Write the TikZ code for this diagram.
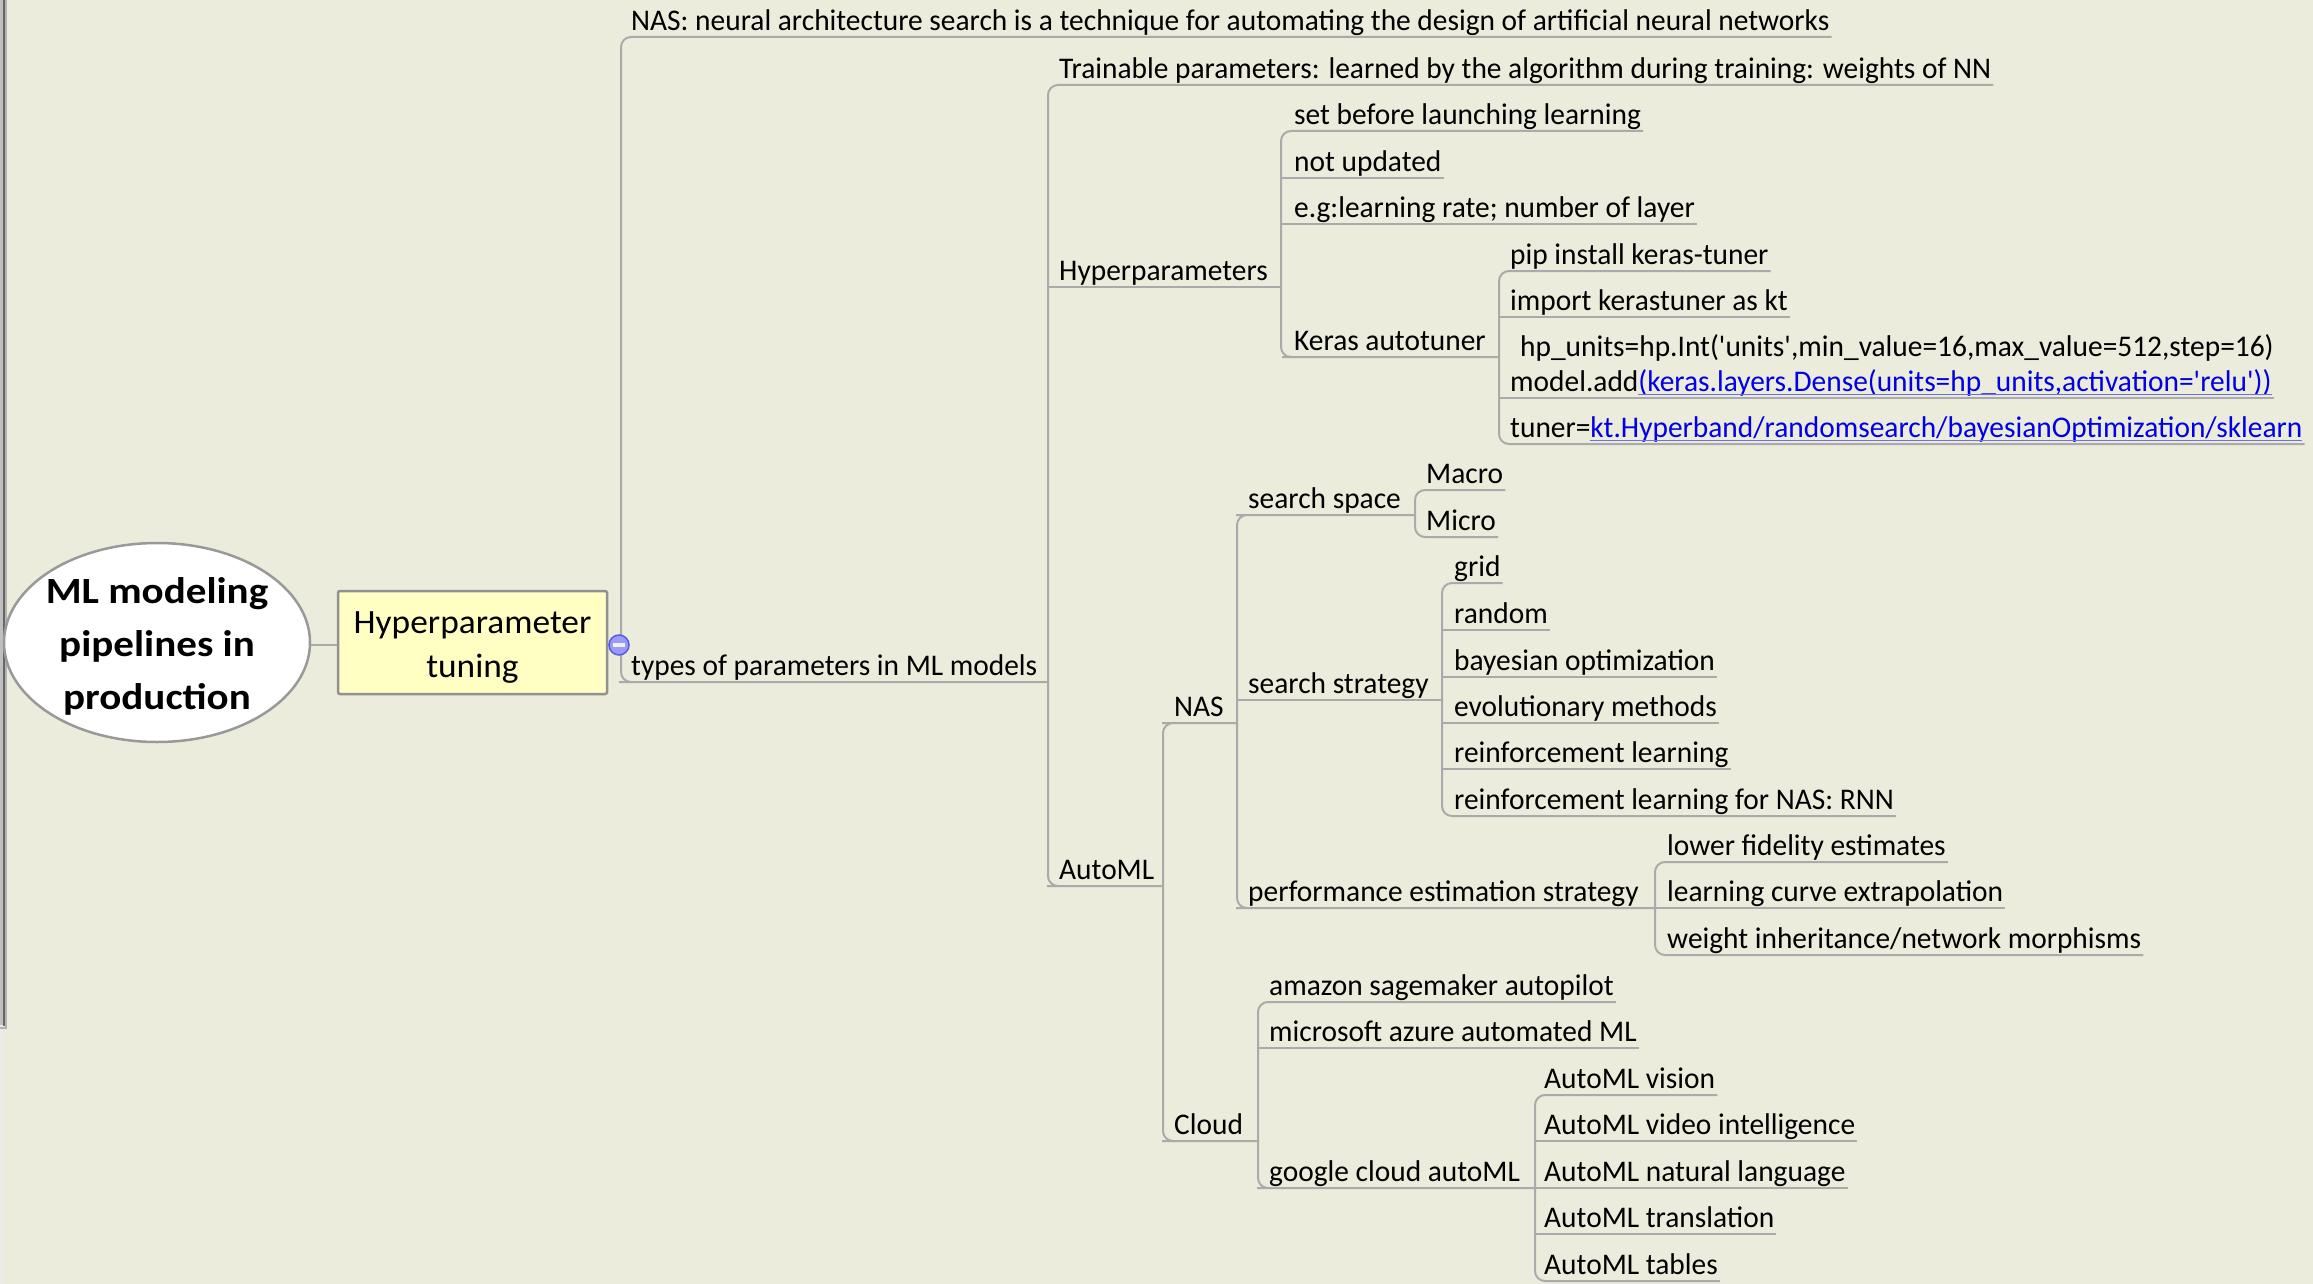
\documentclass[tikz,border=0pt]{standalone}
\usepackage{fontspec}
\setmainfont{Carlito}[FakeStretch=0.98]
\newfontfamily\rootfont{Carlito}[FakeStretch=1.11]
\newfontfamily\boxfont{Carlito}[FakeStretch=1.04]
\usetikzlibrary{calc,shapes.geometric}
\definecolor{bg}{RGB}{236,236,220}
\definecolor{ln}{RGB}{170,170,170}
\definecolor{boxfill}{RGB}{255,255,196}
\definecolor{boxdraw}{RGB}{145,145,145}
\definecolor{lnk}{RGB}{0,0,230}
\definecolor{lnkul}{RGB}{110,110,230}
\definecolor{cfill}{RGB}{155,155,250}
\definecolor{cdraw}{RGB}{90,90,235}
\newsavebox\lnkbox
\newcommand\lnk[1]{\sbox\lnkbox{\color{lnk}#1}\usebox\lnkbox\llap{\color{lnkul}\rule[-3.5pt]{\wd\lnkbox}{1.6pt}}}
\newcommand\sq{\textquotesingle}
\tikzset{
  topic/.style={anchor=south west, inner xsep=2pt, inner ysep=0pt, text depth=6pt,
    font=\fontsize{30}{35}\selectfont, text=black},
  conn/.style={draw=ln, line width=2pt, rounded corners=10pt},
}
\begin{document}
\begin{tikzpicture}[x=1pt,y=-1pt]
\useasboundingbox (0,0) rectangle (2313,1284);
\fill[bg] (0,0) rectangle (2313,1284);
\begin{scope}
\clip (0,0) rectangle (2313,1284);
% left window edge
\fill[black!25] (0,0) rectangle (3,1025);
\fill[black!8] (0,1025) rectangle (3,1284);
\draw[black!60, line width=2pt] (4,0) -- (4,1026);
\draw[black!30, line width=2pt] (6,0) -- (6,1028) -- (0,1028);

% root and main topic
\node[ellipse, draw=black!40, fill=white, line width=2.5pt, minimum width=306, minimum height=199,
  inner sep=0,
  label={[name=rootlbl, align=center, font=\fontsize{37}{53}\rootfont\bfseries, yshift=-4pt]center:{ML modeling\\pipelines in\\production}}] (root) at (157,642.5) {};
\node[draw=boxdraw, fill=boxfill, line width=2.5pt, rounded corners=2pt, minimum width=269,
  minimum height=103, inner sep=0,
  label={[name=boxlbl, align=center, font=\fontsize{34}{44}\boxfont, yshift=-5pt]center:{Hyperparameter\\tuning}}] (box) at (472.5,642.5) {};
\draw[ln, line width=2.5pt] (root.east |- 0,645) -- (box.west |- 0,645);

% junction coordinates
\coordinate (boxJ) at (621,645);
\coordinate (typesJ) at (1048,682);
\coordinate (hyperJ) at (1281,287);
\coordinate (kerasJ) at (1499,357);
\coordinate (automlJ) at (1163,886);
\coordinate (nasJ) at (1237,723);
\coordinate (sspaceJ) at (1415,515);
\coordinate (sstratJ) at (1442,700);
\coordinate (perfJ) at (1655,908);
\coordinate (cloudJ) at (1258,1141);
\coordinate (googleJ) at (1535,1188);

% level 1
\node[topic] (nasdef) at (629,37) {NAS: neural architecture search is a technique for automating the design of artificial neural networks};
\node[topic] (types) at (629,682) {types of parameters in ML models};
% level 2
\node[topic] (train) at (1057,85) {Trainable parameters: learned by the algorithm during training: weights of NN};
\node[topic] (hyper) at (1057,287) {Hyperparameters};
\node[topic] (automl) at (1057,886) {AutoML};
% hyperparameters
\node[topic] (set) at (1292,131) {set before launching learning};
\node[topic] (notup) at (1292,178) {not updated};
\node[topic] (eg) at (1292,224) {e.g:learning rate; number of layer};
\node[topic] (keras) at (1292,357) {Keras autotuner};
% keras
\node[topic] (pip) at (1508,271) {pip install keras-tuner};
\node[topic] (imp) at (1508,317) {import kerastuner as kt};
\node[topic, text depth=0pt] (hp) at (1518,357) {hp\_units=hp.Int(\sq units\sq,min\_value=16,max\_value=512,step=16)};
\node[topic] (model) at (1508,398) {model.add\lnk{(keras.layers.Dense(units=hp\_units,activation=\sq relu\sq))}};
\node[topic] (tuner) at (1508,444) {tuner=\lnk{kt.Hyperband/randomsearch/bayesianOptimization/sklearn}};
% automl
\node[topic] (nas) at (1172,723) {NAS};
\node[topic] (cloud) at (1172,1141) {Cloud};
% nas
\node[topic] (sspace) at (1246,515) {search space};
\node[topic] (sstrat) at (1246,700) {search strategy};
\node[topic] (perf) at (1246,908) {performance estimation strategy};
\node[topic] (macro) at (1424,490) {Macro};
\node[topic] (micro) at (1424,537) {Micro};
\node[topic] (grid) at (1452,583) {grid};
\node[topic] (random) at (1452,630) {random};
\node[topic] (bayes) at (1452,677) {bayesian optimization};
\node[topic] (evo) at (1452,723) {evolutionary methods};
\node[topic] (rl) at (1452,769) {reinforcement learning};
\node[topic] (rnn) at (1452,816) {reinforcement learning for NAS: RNN};
\node[topic] (lower) at (1665,862) {lower fidelity estimates};
\node[topic] (curve) at (1665,908) {learning curve extrapolation};
\node[topic] (weight) at (1665,955) {weight inheritance/network morphisms};
% cloud
\node[topic] (amazon) at (1267,1002) {amazon sagemaker autopilot};
\node[topic] (azure) at (1267,1048) {microsoft azure automated ML};
\node[topic] (google) at (1267,1188) {google cloud autoML};
\node[topic] (vision) at (1542,1095) {AutoML vision};
\node[topic] (video) at (1542,1141) {AutoML video intelligence};
\node[topic] (natural) at (1542,1188) {AutoML natural language};
\node[topic] (trans) at (1542,1234) {AutoML translation};
\node[topic] (tables) at (1542,1281) {AutoML tables};

% connectors
\draw[conn] (box.east |- boxJ) -- (boxJ);
\draw[conn] (boxJ) |- (nasdef.south east);
\draw[conn] (boxJ) |- (types.south west) -- (typesJ);
\draw[conn] (typesJ) |- (train.south east);
\draw[conn] (typesJ |- hyper.south) -- (hyperJ);
\draw[conn] (typesJ) |- (automl.south west) -- (automlJ);
\draw[conn] (hyperJ) |- (set.south east);
\draw[conn] (hyperJ |- notup.south) -- (notup.south east);
\draw[conn] (hyperJ |- eg.south) -- (eg.south east);
\draw[conn] (hyperJ) |- (keras.south west) -- (kerasJ);
\draw[conn] (kerasJ) |- (pip.south east);
\draw[conn] (kerasJ |- imp.south) -- (imp.south east);
\draw[conn] (kerasJ |- model.south) -- (model.south east);
\draw[conn] (kerasJ) |- (tuner.south east);
\draw[conn] (automlJ) |- (nas.south west) -- (nasJ);
\draw[conn] (automlJ) |- (cloud.south west) -- (cloudJ);
\draw[conn] (nasJ) |- (sspace.south west) -- (sspaceJ);
\draw[conn] (nasJ |- sstrat.south) -- (sstratJ);
\draw[conn] (nasJ) |- (perf.south west) -- (perfJ);
\draw[conn] (sspaceJ) |- (macro.south east);
\draw[conn] (sspaceJ) |- (micro.south east);
\draw[conn] (sstratJ) |- (grid.south east);
\draw[conn] (sstratJ |- random.south) -- (random.south east);
\draw[conn] (sstratJ |- bayes.south) -- (bayes.south east);
\draw[conn] (sstratJ |- evo.south) -- (evo.south east);
\draw[conn] (sstratJ |- rl.south) -- (rl.south east);
\draw[conn] (sstratJ) |- (rnn.south east);
\draw[conn] (perfJ) |- (lower.south east);
\draw[conn] (perfJ |- curve.south) -- (curve.south east);
\draw[conn] (perfJ) |- (weight.south east);
\draw[conn] (cloudJ) |- (amazon.south east);
\draw[conn] (cloudJ |- azure.south) -- (azure.south east);
\draw[conn] (cloudJ) |- (google.south west) -- (googleJ);
\draw[conn] (googleJ) |- (vision.south east);
\draw[conn] (googleJ |- video.south) -- (video.south east);
\draw[conn] (googleJ |- natural.south) -- (natural.south east);
\draw[conn] (googleJ |- trans.south) -- (trans.south east);
\draw[conn] (googleJ) |- (tables.south east);

% collapse marker
\node[circle, draw=cdraw, fill=cfill, line width=1.5pt, minimum size=20, inner sep=0] (col) at (619,645) {};
\draw[white!85!cfill, line width=3.5pt] ($(col)+(-6,0)$) -- ($(col)+(6,0)$);
\end{scope}
\end{tikzpicture}
\end{document}
